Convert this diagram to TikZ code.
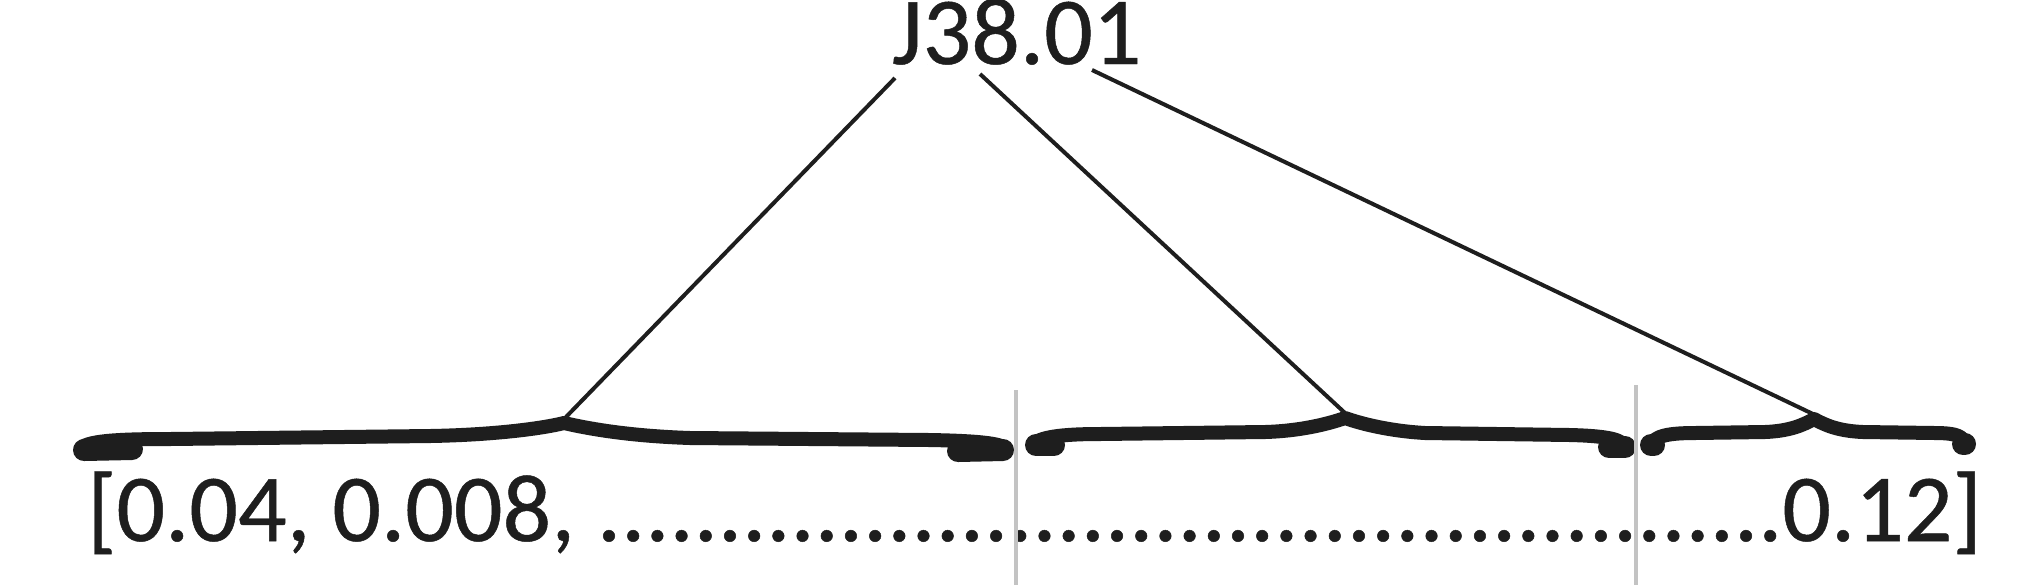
\documentclass[tikz,border=0pt]{standalone}
\usepackage{fontspec}
\setmainfont[FakeBold=0.5]{Carlito}
\definecolor{ink}{RGB}{30,30,30}
\definecolor{rulegray}{RGB}{195,195,195}
\begin{document}
\begin{tikzpicture}[x=0.5pt,y=-0.5pt,
  lbl/.style={inner sep=0pt, outer sep=0pt, text=ink, font=\fontsize{48}{58}\selectfont, anchor=base west},
  conn/.style={draw=ink, line width=2pt},
  bracebody/.style={draw=ink, line width=7pt, line join=round},
  bracetip/.style={draw=ink, line width=11pt, line cap=round},
  divider/.style={draw=rulegray, line width=1.75pt}]
\useasboundingbox[fill=white] (0,0) rectangle (2043,585);

% texts
\node[lbl, text height=31pt] (code) at (892,64) {J38.01};
\node[lbl] (vec) at (87,541) {[0.04, 0.008, .................................................0.12]};

% brace 1
\draw[bracebody] (80,449) .. controls (86,441) and (115,439) .. (170,439) -- (430,436)
  .. controls (490,435) and (540,429) .. (564,423)
  .. controls (590,429) and (630,436) .. (690,438) -- (930,440)
  .. controls (985,441) and (1004,444) .. (1007,450);
\draw[bracetip] (84,450) -- (132,449);
\draw[bracetip] (958,451) -- (1003,450);

% brace 2
\draw[bracebody] (1033,445) .. controls (1038,437) and (1062,434) .. (1100,434) -- (1265,432)
  .. controls (1300,431) and (1328,424) .. (1345,418)
  .. controls (1362,424) and (1390,431) .. (1425,433) -- (1570,435)
  .. controls (1610,436) and (1622,440) .. (1624,446);
\draw[bracetip] (1036,445) -- (1054,445);
\draw[bracetip] (1609,447) -- (1625,447);

% brace 3
\draw[bracebody] (1651,445) .. controls (1654,436) and (1668,433) .. (1695,433) -- (1765,432)
  .. controls (1790,431) and (1803,425) .. (1814,419)
  .. controls (1825,425) and (1838,431) .. (1863,432) -- (1935,433)
  .. controls (1958,433) and (1964,437) .. (1964,444);
\draw[bracetip] (1651,445) -- (1654,445);
\draw[bracetip] (1963,444) -- (1965,444);

% connector ends
\coordinate (t1) at (895,78);
\coordinate (t2) at (980,74);
\coordinate (t3) at (1092,70);
\coordinate (p1) at (566,417);
\coordinate (p2) at (1345,413);
\coordinate (p3) at (1813,414);
\draw[conn] (t1) -- (p1);
\draw[conn] (t2) -- (p2);
\draw[conn] (t3) -- (p3);

% dividers
\coordinate (d1top) at (1016,390);
\coordinate (d1bot) at (1016,585);
\coordinate (d2top) at (1636,385);
\coordinate (d2bot) at (1636,585);
\draw[divider] (d1top) -- (d1bot);
\draw[divider] (d2top) -- (d2bot);
\end{tikzpicture}
\end{document}
